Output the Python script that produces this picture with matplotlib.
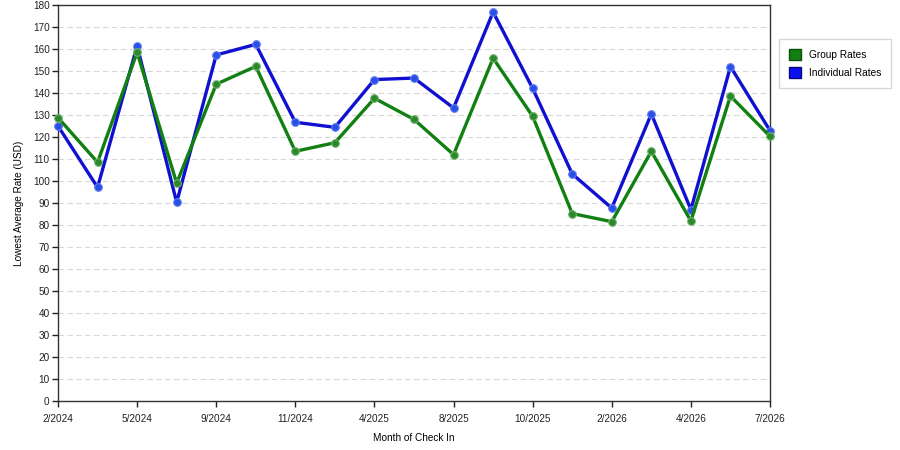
import matplotlib
matplotlib.use('Agg')
import matplotlib.pyplot as plt
import numpy as np
from matplotlib.patches import Patch

# months of check in (19 monthly points, every other one labelled)
months = ['2/2024', '3/2024', '5/2024', '6/2024', '9/2024', '10/2024', '11/2024',
          '12/2024', '4/2025', '5/2025', '8/2025', '9/2025', '10/2025', '11/2025',
          '2/2026', '3/2026', '4/2026', '5/2026', '7/2026']
tick_labels = ['2/2024', '5/2024', '9/2024', '11/2024', '4/2025', '8/2025',
               '10/2025', '2/2026', '4/2026', '7/2026']

group_rates = [128.8, 108.5, 158.5, 99.0, 144.0, 152.1, 113.5, 117.4, 137.6, 128.0,
               112.0, 155.8, 129.4, 85.2, 81.5, 113.5, 81.8, 138.6, 120.3]
indiv_rates = [125.0, 97.1, 161.4, 90.3, 157.3, 162.1, 126.7, 124.4, 146.1, 146.8,
               133.2, 176.8, 142.1, 103.2, 87.7, 130.5, 87.0, 152.0, 122.9]

green = '#118011'
blue = '#1010d0'

plt.rcParams['font.family'] = 'Liberation Sans'
fig = plt.figure(figsize=(9, 4.5), dpi=100)
ax = fig.add_axes([58 / 900, 1 - 401 / 450, 712 / 900, 396 / 450])

x = np.arange(len(months))
ax.plot(x, indiv_rates, color=blue, lw=2.4, marker='o', ms=5.5,
        mfc='#2a4ee8', mec='#6080f0', mew=0.8, zorder=3, clip_on=False)
ax.plot(x, group_rates, color=green, lw=2.4, marker='o', ms=5.5,
        mfc='#2a8a2a', mec='#70b070', mew=0.8, zorder=4, clip_on=False)

ax.set_xlim(0, len(months) - 1)
ax.set_ylim(0, 180)
ax.set_yticks(np.arange(0, 181, 10))
ax.set_xticks(x[::2])
ax.set_xticklabels(tick_labels)
ax.tick_params(labelsize=7.2, length=4, width=1, direction='out', colors='#222222', pad=2)
ax.tick_params(axis='x', pad=5)
ax.yaxis.grid(True, ls=(0, (5, 3)), color='#d8d8d8', lw=0.8)
ax.set_axisbelow(True)
for s in ax.spines.values():
    s.set_color('#333333')
    s.set_linewidth(1)

ax.set_ylabel('Lowest Average Rate (USD)', fontsize=7.2, labelpad=6)
ax.set_xlabel('Month of Check In', fontsize=7.2, labelpad=7)

handles = [Patch(facecolor=green, edgecolor='#0a500a', label='Group Rates'),
           Patch(facecolor='#0a10f0', edgecolor='#0a0a80', label='Individual Rates')]
leg = fig.legend(handles=handles, loc='upper left', bbox_to_anchor=(779 / 900, 1 - 39 / 450),
                 fontsize=7.3, frameon=True, fancybox=False, handlelength=1.2,
                 handleheight=1.3, borderpad=0.95, labelspacing=0.75, handletextpad=0.8,
                 borderaxespad=0)
leg.get_frame().set_edgecolor('#cccccc')
leg.get_frame().set_linewidth(1)

fig.savefig('out.png', dpi=100)
